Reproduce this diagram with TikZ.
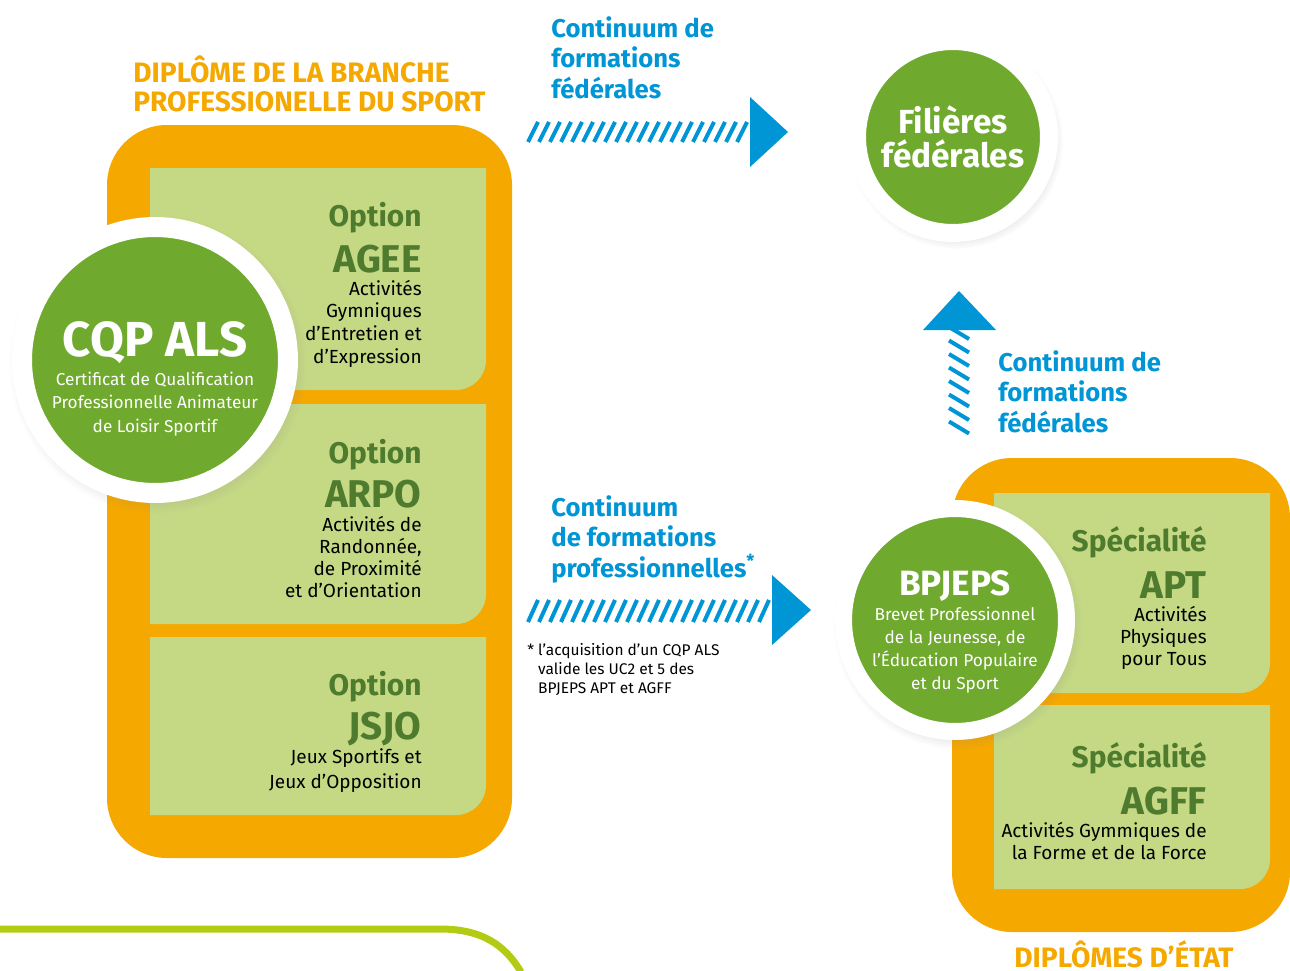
\documentclass[tikz,border=0pt]{standalone}
\usepackage{fontspec}
\setmainfont{Fira Sans}
\usetikzlibrary{positioning, shadows, calc}

\definecolor{orangebox}{HTML}{F5A800}
\definecolor{limebox}{HTML}{C5D985}
\definecolor{greendisc}{HTML}{6FA92E}
\definecolor{darkgreen}{HTML}{4E7B2E}
\definecolor{blueflow}{HTML}{0095D5}
\definecolor{limeline}{HTML}{B3CB12}

\begin{document}
\begin{tikzpicture}[x=0.02cm, y=-0.02cm,
    frame/.style={fill=orangebox, rounded corners=1.2cm},
    option/.style={fill=limebox},
    disc/.style={circle, fill=greendisc, draw=white, inner sep=0pt,
        circular drop shadow={shadow scale=1.12, opacity=0.25, shadow xshift=0.05cm, shadow yshift=-0.08cm}},
    disctitle/.style={anchor=base, inner sep=0pt, text=white, font=\bfseries\fontsize{#1}{#1}\selectfont},
    discdesc/.style={anchor=base, inner sep=0pt, text=white, align=center, font=\fontsize{9.8}{#1}\selectfont},
    optname/.style={anchor=base east, inner sep=0pt, text=darkgreen, font=\bfseries\fontsize{17}{18}\selectfont},
    optcode/.style={anchor=base east, inner sep=0pt, text=darkgreen, font=\bfseries\fontsize{22}{24}\selectfont},
    optdesc/.style={anchor=base east, inner sep=0pt, align=right, font=\fontsize{10.8}{#1}\selectfont},
    flowtxt/.style={anchor=base west, inner sep=0pt, align=left, text=blueflow, font=\bfseries\fontsize{14.6}{17.3}\selectfont},
    heading/.style={inner sep=0pt, text=orangebox, font=\bfseries\fontsize{16}{16.4}\selectfont},
    hatch/.style={blueflow, line width=0.08cm},
    head/.style={fill=blueflow}
]
\useasboundingbox (0,0) rectangle (1290,970);

% Headings
\node[heading, anchor=base west, align=left] (brancheTitle) at (133,111) {DIPLÔME DE LA BRANCHE\\PROFESSIONELLE DU SPORT};
\node[heading, anchor=base] (etatTitle) at (1124,967) {DIPLÔMES D’ÉTAT};

% Frames
\fill[frame] (107,125) rectangle (512,858);
\fill[frame] (952,458) rectangle (1290,932);

% Options of the CQP
\fill[option] (150,168) -- (486,168) [rounded corners=0.6cm] -- (486,390) [sharp corners] -- (150,390) -- cycle;
\fill[option] (150,404) -- (486,404) [rounded corners=0.6cm] -- (486,624) [sharp corners] -- (150,624) -- cycle;
\fill[option] (150,637) -- (486,637) [rounded corners=0.6cm] -- (486,815) [sharp corners] -- (150,815) -- cycle;

\node[optname] (ageeOpt) at (422,226) {Option};
\node[optcode] (ageeCode) at (422,272) {AGEE};
\node[optdesc=12.9] (ageeDesc) at (422,363) {Activités\\Gymniques\\d’Entretien et\\d’Expression};

\node[optname] (arpoOpt) at (422,463) {Option};
\node[optcode] (arpoCode) at (422,507) {ARPO};
\node[optdesc=12.5] (arpoDesc) at (422,597) {Activités de\\Randonnée,\\de Proximité\\et d’Orientation};

\node[optname] (jsjoOpt) at (422,695) {Option};
\node[optcode] (jsjoCode) at (422,739) {JSJO};
\node[optdesc=14.2] (jsjoDesc) at (422,788) {Jeux Sportifs et\\Jeux d’Opposition};

% Specialities of the BPJEPS
\fill[option] (994,493) -- (1270,493) [rounded corners=0.6cm] -- (1270,693) [sharp corners] -- (994,693) -- cycle;
\fill[option] (994,705) -- (1270,705) [rounded corners=0.6cm] -- (1270,889) [sharp corners] -- (994,889) -- cycle;

\node[optname] (aptSpec) at (1207,551) {Spécialité};
\node[optcode] (aptCode) at (1207,598) {APT};
\node[optdesc=12.5] (aptDesc) at (1207,665) {Activités\\Physiques\\pour Tous};

\node[optname] (agffSpec) at (1207,767) {Spécialité};
\node[optcode] (agffCode) at (1207,814) {AGFF};
\node[optdesc=12.5] (agffDesc) at (1207,859) {Activités Gymmiques de\\la Forme et de la Force};

% Discs
\node[disc, line width=0.4cm, minimum size=5.32cm] (cqp) at (155,360) {};
\node[disctitle=28] (cqpTitle) at (155,356) {CQP ALS};
\node[discdesc=13.3] (cqpDesc) at (155,432) {Certificat de Qualification\\Professionnelle Animateur\\de Loisir Sportif};

\node[disc, line width=0.34cm, minimum size=4.46cm] (bpjeps) at (955,620) {};
\node[disctitle=20] (bpjepsTitle) at (955,595) {BPJEPS};
\node[discdesc=13] (bpjepsDesc) at (955,689) {Brevet Professionnel\\de la Jeunesse, de\\l’Éducation Populaire\\et du Sport};

\node[disc, line width=0.36cm, minimum size=3.84cm] (filieres) at (953,137) {};
\node[disctitle=19, align=center, font=\bfseries\fontsize{19}{19.3}\selectfont] (filieresTitle) at (953,167) {Filières\\fédérales};

% Flows
\node[flowtxt] (fedTxtA) at (551,98) {Continuum de\\formations\\fédérales};
\node[flowtxt] (fedTxtB) at (998,432) {Continuum de\\formations\\fédérales};
\node[flowtxt] (proTxt) at (551,577) {Continuum\\de formations\\professionnelles\textsuperscript{*}};
\node[anchor=base west, inner sep=0pt, align=left, font=\fontsize{8.8}{10.8}\selectfont] (proNote) at (527,693)
    {* l’acquisition d’un CQP ALS\\\hphantom{* }valide les UC2 et 5 des\\\hphantom{* }BPJEPS APT et AGFF};

\coordinate (fedStart) at (528,132);
\coordinate (fedTip) at (788,132);
\foreach \k in {0,...,19}
    \draw[hatch] ($(fedStart)+(\k*11,10)$) -- ++(10,-20);
\fill[head] (fedTip) -- ++(-38,-35) -- ++(0,70) -- cycle;

\coordinate (proStart) at (528,611);
\coordinate (proTip) at (811,610);
\foreach \k in {0,...,21}
    \draw[hatch] ($(proStart)+(\k*11,11)$) -- ++(10,-22);
\fill[head] (proTip) -- ++(-39,-35) -- ++(0,70) -- cycle;

\coordinate (upStart) at (959,428);
\coordinate (upTip) at (959,291);
\foreach \k in {0,...,7}
    \draw[hatch] ($(upStart)+(-10,-6.5-\k*13.5)$) -- ++(20,12);
\fill[head] (upTip) -- ++(-36,39) -- ++(73,0) -- cycle;

% Lime rule
\draw[limeline, line width=0.14cm] (0,929) -- (440,929) .. controls (482,929) and (505,945) .. (521,972);
\end{tikzpicture}
\end{document}
